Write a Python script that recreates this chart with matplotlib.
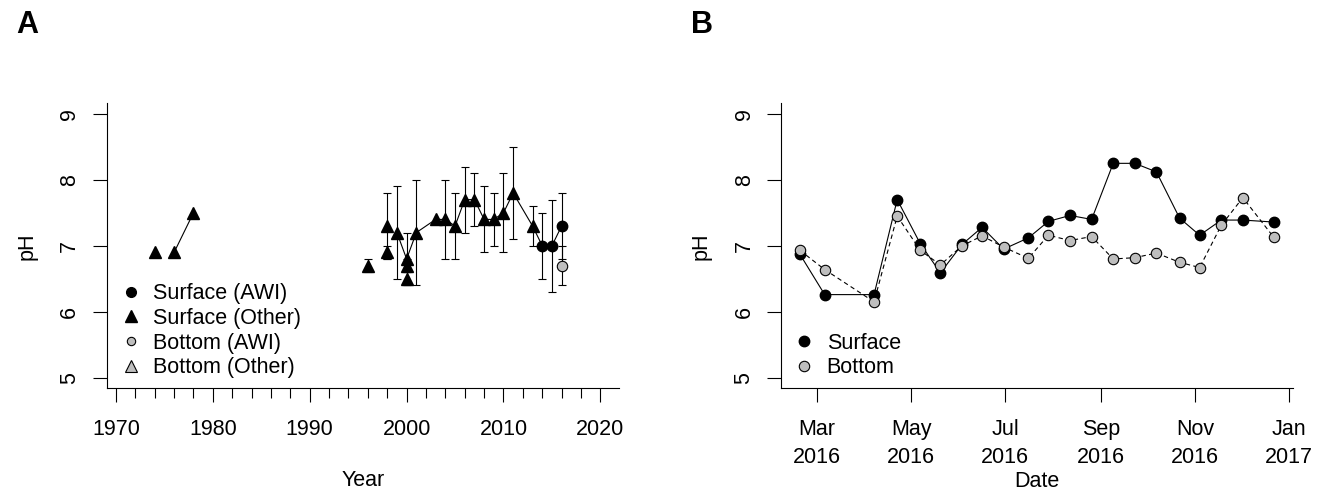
import matplotlib
matplotlib.use("Agg")
import matplotlib.pyplot as plt
import matplotlib.dates as mdates
from matplotlib.lines import Line2D
import numpy as np
import pandas as pd

plt.rcParams['font.family'] = ['Liberation Sans', 'DejaVu Sans']

# --- panel A: long-term pH record ---
other_year = [1974, 1976, 1978, 1996, 1998, 1998, 1999, 2000, 2000, 2000, 2001,
              2003, 2004, 2005, 2006, 2007, 2008, 2009, 2010, 2011, 2013]
other_ph = [6.9, 6.9, 7.5, 6.7, 7.3, 6.9, 7.2, 6.8, 6.7, 6.5, 7.2,
            7.4, 7.4, 7.3, 7.7, 7.7, 7.4, 7.4, 7.5, 7.8, 7.3]
other_sd = [np.nan, np.nan, np.nan, 0.1, 0.5, 0.1, 0.7, 0.4, 0.1, 0.1, 0.8,
            np.nan, 0.6, 0.5, 0.5, 0.4, 0.5, 0.4, 0.6, 0.7, 0.3]

awi_year = [2014, 2015, 2016]
awi_ph = [7.0, 7.0, 7.3]
awi_sd = [0.5, 0.7, 0.5]

bottom_awi_year = [2016]
bottom_awi_ph = [6.7]
bottom_awi_sd = [0.3]

# connecting line (breaks at NaN)
trend_year = [1976, 1978, np.nan, 1999, 2000, 2001, 2003, 2004, 2005, 2006, 2007,
              2008, 2009, 2010, 2011, 2013, 2014, 2015, 2016]
trend_ph = [6.9, 7.5, np.nan, 7.2, 6.8, 7.2, 7.4, 7.4, 7.3, 7.7, 7.7,
            7.4, 7.4, 7.5, 7.8, 7.3, 7.0, 7.0, 7.3]

# --- panel B: 2016 sampling season ---
sample_date = ['2016-02-19', '2016-03-06', '2016-04-07', '2016-04-22', '2016-05-07',
               '2016-05-20', '2016-06-03', '2016-06-16', '2016-06-30', '2016-07-16',
               '2016-07-29', '2016-08-12', '2016-08-26', '2016-09-09', '2016-09-23',
               '2016-10-07', '2016-10-22', '2016-11-04', '2016-11-18', '2016-12-02',
               '2016-12-22']
surface_ph = [6.87, 6.26, 6.26, 7.70, 7.03, 6.59, 7.02, 7.28, 6.95, 7.12, 7.37,
              7.46, 7.40, 8.25, 8.25, 8.12, 7.42, 7.16, 7.39, 7.39, 7.36]
bottom_ph = [6.93, 6.64, 6.15, 7.45, 6.93, 6.71, 7.00, 7.15, 6.98, 6.81, 7.16,
             7.08, 7.14, 6.80, 6.82, 6.89, 6.75, 6.67, 7.31, 7.73, 7.13]
month_ticks = ['2016-03-01', '2016-05-01', '2016-07-01', '2016-09-01',
               '2016-11-01', '2017-01-01']

grey = '#BEBEBE'
fs = 15.5

fig = plt.figure(figsize=(13.22, 4.91), dpi=100)
axA = fig.add_axes([0.0807, 0.2092, 0.3878, 0.5804])
axB = fig.add_axes([0.5908, 0.2092, 0.3870, 0.5804])


def style_axis(ax):
    for side in ['top', 'right']:
        ax.spines[side].set_visible(False)
    for side in ['left', 'bottom']:
        ax.spines[side].set_linewidth(0.8)
    ax.set_ylim(4.84, 9.16)
    ax.set_yticks([5, 6, 7, 8, 9])
    ax.tick_params(axis='both', which='major', length=10, width=0.8, labelsize=fs)
    ax.tick_params(axis='x', pad=12)
    ax.tick_params(axis='y', pad=9)
    for lab in ax.get_yticklabels():
        lab.set_rotation(90)
        lab.set_va('center')
    ax.set_ylabel('pH', fontsize=fs)
    ax.yaxis.set_label_coords(-0.135, 0.5)


# panel A
axA.plot(trend_year, trend_ph, color='black', lw=0.8, zorder=1)
axA.errorbar(other_year, other_ph, yerr=other_sd, fmt='none', ecolor='black',
             elinewidth=0.8, capsize=3, capthick=0.8, zorder=2)
axA.errorbar(awi_year, awi_ph, yerr=awi_sd, fmt='none', ecolor='black',
             elinewidth=0.8, capsize=3, capthick=0.8, zorder=2)
axA.errorbar(bottom_awi_year, bottom_awi_ph, yerr=bottom_awi_sd, fmt='none',
             ecolor='black', elinewidth=0.8, capsize=3, capthick=0.8, zorder=2)
axA.plot(other_year, other_ph, '^', color='black', ms=9, zorder=3)
axA.plot(awi_year, awi_ph, 'o', color='black', ms=7.5, zorder=3)
axA.plot(bottom_awi_year, bottom_awi_ph, 'o', mfc=grey, mec='black', mew=0.8,
         ms=7.5, zorder=3)

axA.set_xlim(1969.04, 2021.96)
axA.set_xticks([1970, 1980, 1990, 2000, 2010, 2020])
axA.set_xticks(np.arange(1972, 2020, 2), minor=True)
axA.tick_params(axis='x', which='minor', length=7, width=0.8)
style_axis(axA)
axA.set_xlabel('Year', fontsize=fs)
axA.xaxis.set_label_coords(0.5, -0.285)

handlesA = [
    Line2D([], [], ls='none', marker='o', color='black', ms=7),
    Line2D([], [], ls='none', marker='^', color='black', ms=9),
    Line2D([], [], ls='none', marker='o', mfc=grey, mec='black', mew=0.8, ms=6),
    Line2D([], [], ls='none', marker='^', mfc=grey, mec='black', mew=0.8, ms=8),
]
axA.legend(handlesA, ['Surface (AWI)', 'Surface (Other)', 'Bottom (AWI)', 'Bottom (Other)'],
           loc='lower left', bbox_to_anchor=(0.026, 0.035), frameon=False, fontsize=fs,
           handlelength=1.0, handletextpad=0.55, labelspacing=0.17, borderpad=0,
           borderaxespad=0)

# panel B
dates = pd.to_datetime(sample_date)
axB.plot(dates, surface_ph, '-', color='black', lw=0.8, zorder=1)
axB.plot(dates, bottom_ph, color='black', lw=0.8, dashes=(4, 3), zorder=1)
axB.plot(dates, surface_ph, 'o', color='black', ms=7.5, zorder=3)
axB.plot(dates, bottom_ph, 'o', mfc=grey, mec='black', mew=0.8, ms=7.5, zorder=4)

span = dates.max() - dates.min()
axB.set_xlim(dates.min() - 0.04 * span, dates.max() + 0.04 * span)
axB.set_xticks(pd.to_datetime(month_ticks))
axB.xaxis.set_major_formatter(mdates.DateFormatter('%b\n%Y'))
style_axis(axB)
for lab in axB.get_xticklabels():
    lab.set_linespacing(1.45)
axB.set_xlabel('Date', fontsize=fs)
axB.xaxis.set_label_coords(0.5, -0.292)

handlesB = [
    Line2D([], [], ls='none', marker='o', color='black', ms=7.5),
    Line2D([], [], ls='none', marker='o', mfc=grey, mec='black', mew=0.8, ms=7.5),
]
axB.legend(handlesB, ['Surface', 'Bottom'], loc='lower left', bbox_to_anchor=(0.024, 0.035),
           frameon=False, fontsize=fs, handlelength=1.0, handletextpad=0.55,
           labelspacing=0.17, borderpad=0, borderaxespad=0)

fig.text(0.0125, 0.932, 'A', fontsize=22, fontweight='bold')
fig.text(0.5225, 0.932, 'B', fontsize=22, fontweight='bold')

fig.savefig('out.png', dpi=100)
